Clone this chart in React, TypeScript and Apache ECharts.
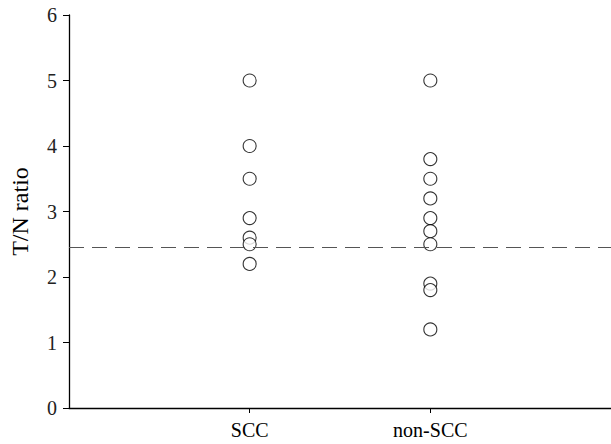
import React, { useEffect, useRef } from "react";
import * as echarts from "echarts";

const categories = ["SCC", "non-SCC"];
const sccValues = [5, 4, 3.5, 2.9, 2.6, 2.5, 2.2];
const nonSccValues = [5, 3.8, 3.5, 3.2, 2.9, 2.7, 2.5, 1.9, 1.8, 1.2];
const cutoff = 2.45;
const yTicks = [0, 1, 2, 3, 4, 5, 6];

export default function App() {
  const ref = useRef<HTMLDivElement>(null);
  useEffect(() => {
    const chart = echarts.init(ref.current!, null, { renderer: "svg" });
    const font = "'Liberation Serif', 'Times New Roman', 'DejaVu Serif', serif";
    const groups = [sccValues, nonSccValues];
    chart.setOption({
      animation: false,
      backgroundColor: "#fff",
      grid: { left: 69, right: -3, top: 15, bottom: 36, containLabel: false },
      xAxis: {
        type: "value",
        min: 0,
        max: 3,
        interval: 1,
        splitLine: { show: false },
        axisLine: { lineStyle: { color: "#000", width: 1.3 } },
        axisTick: {
          show: true,
          length: 5,
          lineStyle: { color: "#000" },
          customValues: [1, 2],
        },
        axisLabel: {
          color: "#000",
          fontFamily: font,
          fontSize: 20,
          margin: 12,
          customValues: [1, 2],
          formatter: (v: number) => categories[v - 1] ?? "",
        },
      },
      yAxis: {
        type: "value",
        min: yTicks[0],
        max: yTicks[yTicks.length - 1],
        interval: 1,
        name: "T/N ratio",
        nameLocation: "middle",
        nameGap: 37,
        nameTextStyle: { color: "#000", fontFamily: font, fontSize: 24 },
        splitLine: { show: false },
        axisLine: { show: true, lineStyle: { color: "#000", width: 1.3 } },
        axisTick: { show: true, length: 6, lineStyle: { color: "#000" } },
        axisLabel: { color: "#222", fontFamily: font, fontSize: 20, margin: 12 },
      },
      series: groups.map((vals, gi) => ({
        type: "scatter",
        symbol: "circle",
        symbolSize: 13,
        itemStyle: { color: "#fff", borderColor: "#000", borderWidth: 1.1 },
        data: vals.map((v) => [gi + 1, v]),
        markLine:
          gi === 0
            ? {
                silent: true,
                symbol: "none",
                label: { show: false },
                lineStyle: { color: "#555", width: 1, type: [15, 8] },
                data: [{ yAxis: cutoff }],
              }
            : undefined,
        z: 3,
      })),
    });
    return () => chart.dispose();
  }, []);
  return (
    <div
      ref={ref}
      style={{ position: "fixed", left: 0, top: 0, width: 611, height: 444 }}
    />
  );
}
